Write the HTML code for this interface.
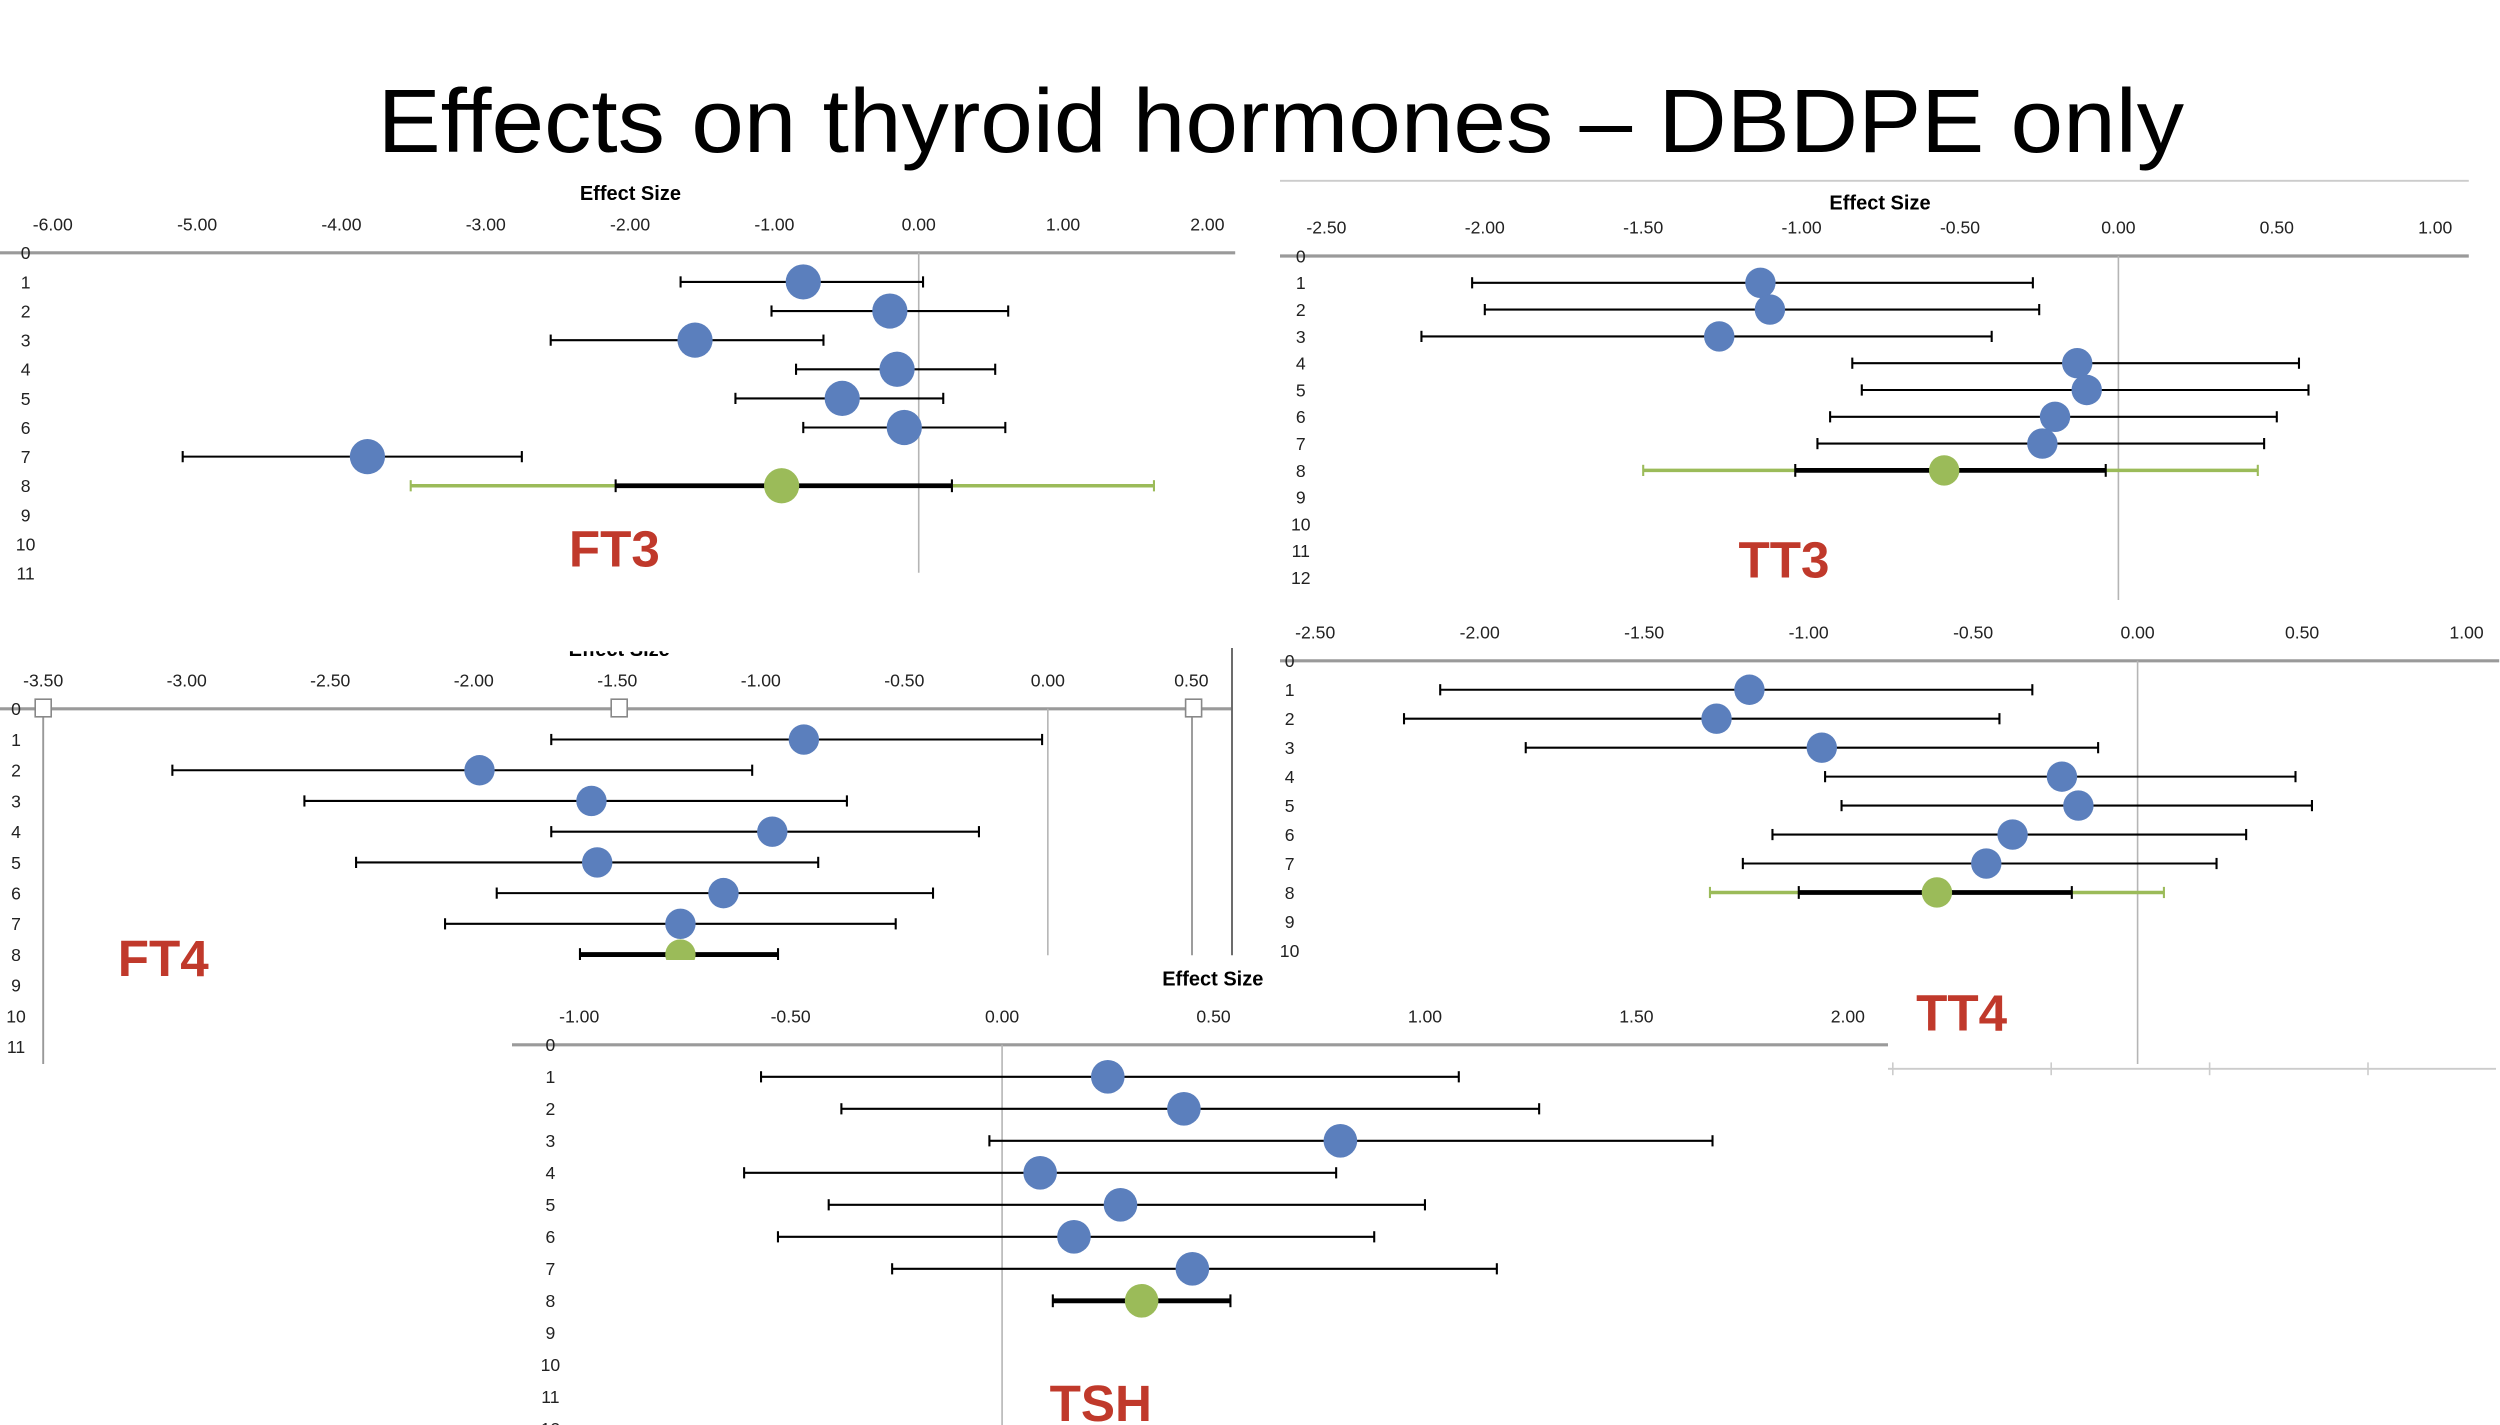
<!DOCTYPE html>
<html><head><meta charset="utf-8"><style>
html,body{margin:0;padding:0;background:#fff;width:2500px;height:1425px;overflow:hidden}
svg{display:block}
text{font-family:"Liberation Sans",sans-serif}
</style></head><body>
<svg id="s" width="2500" height="1425" viewBox="0 0 1562.5 890.625" xmlns="http://www.w3.org/2000/svg">
<rect width="1562.5" height="890.625" fill="#fff"/>
<text x="236" y="95" font-size="56" textLength="1129" lengthAdjust="spacingAndGlyphs" fill="#000">Effects on thyroid hormones – DBDPE only</text>
</svg>
<script>
// FT3
const ft3Ticks = ["-6.00","-5.00","-4.00","-3.00","-2.00","-1.00","0.00","1.00","2.00"];
const ft3Est = [-0.80,-0.20,-1.55,-0.15,-0.53,-0.10,-3.82];
const ft3Lo = [-1.65,-1.02,-2.55,-0.85,-1.27,-0.80,-5.10];
const ft3Hi = [0.03,0.62,-0.66,0.53,0.17,0.60,-2.75];
const ft3Pooled = [-0.95,-2.10,0.23,-3.52,1.63];
// TT3
const tt3Ticks = ["-2.50","-2.00","-1.50","-1.00","-0.50","0.00","0.50","1.00"];
const tt3Est = [-1.13,-1.10,-1.26,-0.13,-0.10,-0.20,-0.24];
const tt3Lo = [-2.04,-2.00,-2.20,-0.84,-0.81,-0.91,-0.95];
const tt3Hi = [-0.27,-0.25,-0.40,0.57,0.60,0.50,0.46];
const tt3Pooled = [-0.55,-1.02,-0.04,-1.50,0.44];
// FT4
const ft4Ticks = ["-3.50","-3.00","-2.50","-2.00","-1.50","-1.00","-0.50","0.00","0.50"];
const ft4Est = [-0.85,-1.98,-1.59,-0.96,-1.57,-1.13,-1.28];
const ft4Lo = [-1.73,-3.05,-2.59,-1.73,-2.41,-1.92,-2.10];
const ft4Hi = [-0.02,-1.03,-0.70,-0.24,-0.80,-0.40,-0.53];
const ft4Pooled = [-1.28,-1.63,-0.94,null,null];
// TT4
const tt4Ticks = ["-2.50","-2.00","-1.50","-1.00","-0.50","0.00","0.50","1.00"];
const tt4Est = [-1.18,-1.28,-0.96,-0.23,-0.18,-0.38,-0.46];
const tt4Lo = [-2.12,-2.23,-1.86,-0.95,-0.90,-1.11,-1.20];
const tt4Hi = [-0.32,-0.42,-0.12,0.48,0.53,0.33,0.24];
const tt4Pooled = [-0.61,-1.03,-0.20,-1.30,0.08];
// TSH
const tshTicks = ["-1.00","-0.50","0.00","0.50","1.00","1.50","2.00"];
const tshEst = [0.25,0.43,0.80,0.09,0.28,0.17,0.45];
const tshLo = [-0.57,-0.38,-0.03,-0.61,-0.41,-0.53,-0.26];
const tshHi = [1.08,1.27,1.68,0.79,1.00,0.88,1.17];
const tshPooled = [0.33,0.12,0.54,null,null];

const NS="http://www.w3.org/2000/svg";
const svg=document.getElementById('s');
function mk(tag,attrs,parent,txt){const e=document.createElementNS(NS,tag);for(const k in attrs)e.setAttribute(k,attrs[k]);if(txt!==undefined)e.textContent=txt;(parent||svg).appendChild(e);return e;}

function panel(o){
  const g=mk('g',{});
  
  
  mk('rect',{x:o.bg[0],y:o.bg[1],width:o.bg[2],height:o.bg[3],fill:'#fff'},g);
  const x=v=>o.x0+(v-o.vmin)*o.ppu;
  const y=i=>o.ay+i*o.step;
  if(o.title){const t=mk('text',{x:o.title[0],y:o.title[1],'font-size':12.5,'font-weight':'bold','text-anchor':'middle'},g,'Effect Size');
    
    }
  o.ticks.forEach((lab,i)=>{
    const v=parseFloat(lab);
    const t=mk('text',{x:x(v),y:o.ay-14,'font-size':11,'text-anchor':'middle',fill:'#222'},g,lab);
    
    
  });
  const ax=mk('line',{x1:o.axL,x2:o.axR,y1:o.ay,y2:o.ay,stroke:'#9a9a9a','stroke-width':2},g);
  
  
  const z=mk('line',{x1:x(0),x2:x(0),y1:o.ay,y2:o.zeroEnd,stroke:'#b5b5b5','stroke-width':1},g);
  
  
  for(let i=0;i<=o.nrows;i++){
    const t=mk('text',{x:o.labX,y:y(i)+4,'font-size':11,'text-anchor':'middle',fill:'#222'},g,String(i));
    
    
  }
  const bar=(a,b,yy,col,w,cap,nm)=>{
    const l=mk('line',{x1:x(a),x2:x(b),y1:yy,y2:yy,stroke:col,'stroke-width':w},g);
    
    
    [a,b].forEach(v=>mk('line',{x1:x(v),x2:x(v),y1:yy-cap,y2:yy+cap,stroke:col,'stroke-width':1.3},g));
  };
  o.est.forEach((e,i)=>{
    const yy=y(i+1);
    bar(o.lo[i],o.hi[i],yy,'#000',1.3,3.5,'error-bar');
    const c=mk('circle',{cx:x(e),cy:yy,r:o.r,fill:'#5b7fbd'},g);
    
    
  });
  const p=o.pooled, yy=y(8);
  if(p[3]!==null) bar(p[3],p[4],yy,'#9bbb59',2.2,3.5,'prediction-interval');
  bar(p[1],p[2],yy,'#000',3,4,'pooled-ci');
  const c=mk('circle',{cx:x(p[0]),cy:yy,r:o.r,fill:'#9bbb59'},g);
  
  
  const lt=mk('text',{x:o.lab[0],y:o.lab[1],'font-size':32,'font-weight':'bold','text-anchor':'middle',fill:'#c0392b'},g,o.name.toUpperCase());
  
  
  if(o.extra) o.extra(g,x,y);
  return g;
}

panel({name:'ft3',bg:[0,108,795,255],x0:33,vmin:-6,ppu:90.2,ay:158,step:18.2,axL:0,axR:772,zeroEnd:358,nrows:11,labX:16,r:11,
  title:[394,125],ticks:ft3Ticks,est:ft3Est,lo:ft3Lo,hi:ft3Hi,pooled:ft3Pooled,lab:[384,354]});
panel({name:'tt3',bg:[795,112,768,268],x0:829,vmin:-2.5,ppu:198,ay:160,step:16.75,axL:800,axR:1543,zeroEnd:375,nrows:12,labX:813,r:9.5,
  title:[1175,131],ticks:tt3Ticks,est:tt3Est,lo:tt3Lo,hi:tt3Hi,pooled:tt3Pooled,lab:[1115,361],
  extra:(g)=>{mk('line',{x1:800,x2:1543,y1:113,y2:113,stroke:'#ccc','stroke-width':1.2},g);}});
panel({name:'ft4',bg:[0,398,795,270],x0:27,vmin:-3.5,ppu:179.4,ay:443,step:19.2,axL:0,axR:770,zeroEnd:597,nrows:11,labX:10,r:9.5,
  title:null,ticks:ft4Ticks,est:ft4Est,lo:ft4Lo,hi:ft4Hi,pooled:ft4Pooled,lab:[102,610],
  extra:(g,x)=>{
    mk('line',{x1:27,x2:27,y1:443,y2:665,stroke:'#999','stroke-width':1.2},g);
    mk('line',{x1:745,x2:745,y1:443,y2:597,stroke:'#999','stroke-width':1.2},g);
    mk('line',{x1:770,x2:770,y1:405,y2:597,stroke:'#666','stroke-width':1.2},g);
    [27,387,746].forEach(xx=>mk('rect',{x:xx-5,y:437,width:10,height:11,fill:'#fff',stroke:'#888','stroke-width':1},g));
    mk('text',{x:387,y:410,'font-size':12.5,'font-weight':'bold','text-anchor':'middle'},g,'Effect Size');
    mk('rect',{x:300,y:400,width:200,height:7,fill:'#fff'},g);
  }});
panel({name:'tt4',bg:[795,380,768,290],x0:822,vmin:-2.5,ppu:205.6,ay:413,step:18.1,axL:800,axR:1562,zeroEnd:665,nrows:10,labX:806,r:9.5,
  title:null,ticks:tt4Ticks,est:tt4Est,lo:tt4Lo,hi:tt4Hi,pooled:tt4Pooled,lab:[1226,644],
  extra:(g)=>{
    mk('line',{x1:1180,x2:1560,y1:668,y2:668,stroke:'#ccc','stroke-width':1.2},g);
    [1183,1282,1381,1480].forEach(xx=>mk('line',{x1:xx,x2:xx,y1:664,y2:672,stroke:'#ccc','stroke-width':1},g));
  }});
panel({name:'tsh',bg:[320,600,860,291],x0:362,vmin:-1,ppu:264.3,ay:653,step:20,axL:320,axR:1180,zeroEnd:893,nrows:12,labX:344,r:10.5,
  title:[758,616],ticks:tshTicks,est:tshEst,lo:tshLo,hi:tshHi,pooled:tshPooled,lab:[688,888]});
</script>
</body></html>
